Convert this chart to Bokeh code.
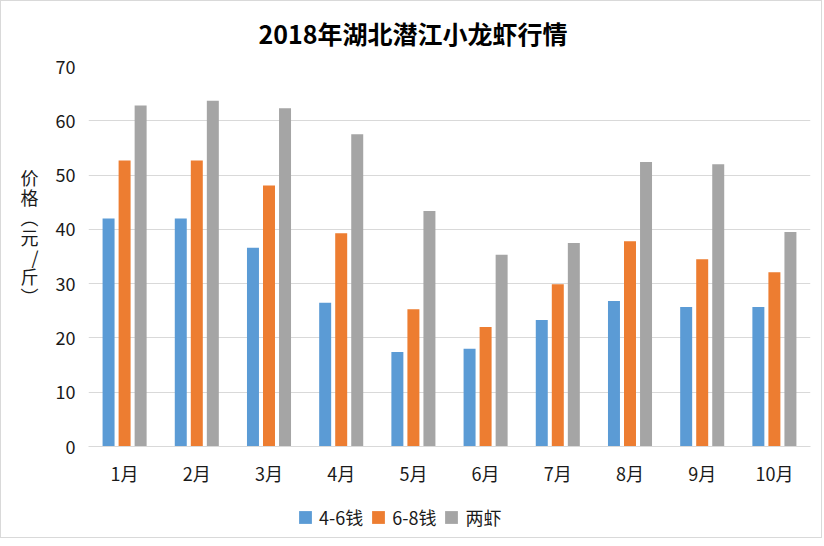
from bokeh.plotting import figure
from bokeh.layouts import column
from bokeh.models import ColumnDataSource, FactorRange, Legend, LegendItem, SingleIntervalTicker
from bokeh.transform import dodge
from bokeh.embed import file_html
from bokeh.resources import INLINE

months = ["1月", "2月", "3月", "4月", "5月", "6月", "7月", "8月", "9月", "10月"]
s46 = [42.0, 42.0, 36.6, 26.5, 17.4, 18.0, 23.3, 26.8, 25.7, 25.7]
s68 = [52.7, 52.7, 48.1, 39.3, 25.3, 22.0, 29.9, 37.8, 34.5, 32.1]
liangxia = [62.8, 63.7, 62.3, 57.5, 43.4, 35.3, 37.5, 52.4, 52.0, 39.5]
series_names = ["4-6钱", "6-8钱", "两虾"]
colors = ["#5B9BD5", "#ED7D31", "#A5A5A5"]
title_text = "2018年湖北潜江小龙虾行情"
y_label = "价\n格\n︵\n元\n/\n斤\n︶\n \n "

FONT = "Noto Sans CJK SC"
TXT = "#1A1A1A"

src = ColumnDataSource(dict(m=months, a=s46, b=s68, c=liangxia))

p = figure(x_range=FactorRange(*months), y_range=(0, 70), width=820, height=498,
           output_backend="svg", toolbar_location=None,
           min_border_left=87, min_border_right=11, min_border_top=64, min_border_bottom=53)

for key, off, col in zip(["a", "b", "c"], [-0.222, 0.0, 0.222], colors):
    p.vbar(x=dodge("m", off, range=p.x_range), top=key, width=0.166, source=src,
           fill_color=col, line_color=None)

p.title.text = title_text
p.title.align = "left"
p.title.offset = 170
p.title.vertical_align = "top"
p.title.text_font = FONT
p.title.text_font_size = "25px"
p.title.text_font_style = "bold"
p.title.text_color = "#000000"
p.title.standoff = 27

p.outline_line_color = None
p.xgrid.grid_line_color = None
p.ygrid.grid_line_color = "#D9D9D9"
p.ygrid.grid_line_width = 1
p.yaxis.ticker = SingleIntervalTicker(interval=10)
p.yaxis.axis_line_color = None
p.yaxis.major_tick_line_color = None
p.yaxis.minor_tick_line_color = None
p.xaxis.axis_line_color = "#D9D9D9"
p.xaxis.major_tick_line_color = None
p.xaxis.minor_tick_line_color = None
for ax in (p.xaxis, p.yaxis):
    ax.major_label_text_font = FONT
    ax.major_label_text_font_size = "18px"
    ax.major_label_text_color = TXT
p.yaxis.major_label_standoff = 7
p.xaxis.major_label_standoff = 7

p.yaxis.axis_label = y_label
p.yaxis.axis_label_orientation = "horizontal"
p.yaxis.axis_label_text_font = FONT
p.yaxis.axis_label_text_font_size = "18px"
p.yaxis.axis_label_text_font_style = "normal"
p.yaxis.axis_label_text_color = TXT
p.yaxis.axis_label_text_line_height = 0.76
p.yaxis.axis_label_standoff = 14

# legend strip below the chart
lf = figure(x_range=FactorRange(*months), y_range=(1000, 1001), width=820, height=38,
            output_backend="svg", toolbar_location=None, x_axis_location=None, y_axis_location=None,
            min_border=0)
lf.outline_line_color = None
lf.grid.grid_line_color = None
lrs = []
for key, col in zip(["a", "b", "c"], colors):
    lrs.append(lf.vbar(x="m", top=key, width=0.166, source=src, fill_color=col, line_color=None))
legend = Legend(items=[LegendItem(label=n, renderers=[r]) for n, r in zip(series_names, lrs)],
                orientation="horizontal", location=(209, 7),
                label_text_font=FONT, label_text_font_size="18px", label_text_color=TXT,
                glyph_width=16, glyph_height=16, spacing=7, label_standoff=6,
                border_line_color=None, background_fill_alpha=0, padding=0, margin=0)
lf.add_layout(legend, "center")

layout = column(p, lf, spacing=0)
layout.styles = {"border": "1px solid #D9D9D9"}
open("out.html", "w").write(file_html(layout, INLINE))
